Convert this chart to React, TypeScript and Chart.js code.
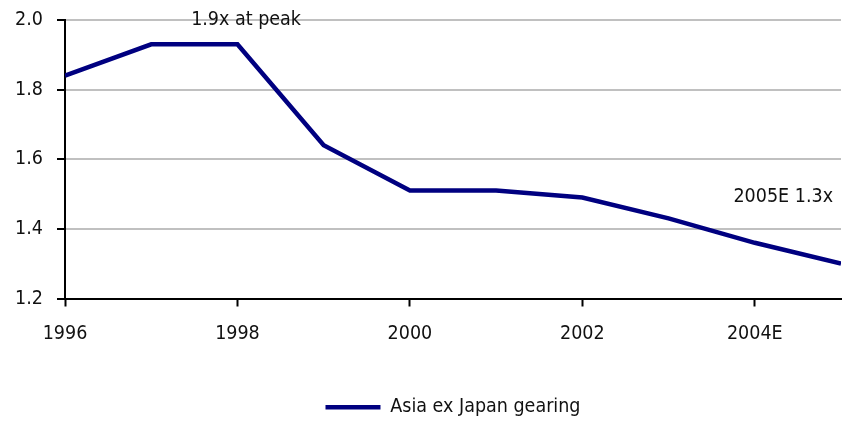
import React, { useEffect, useRef } from "react";
import { Chart, registerables } from "chart.js";

Chart.register(...registerables);

// Fiscal years on the x axis (2004 and 2005 are estimates)
const years = [1996, 1997, 1998, 1999, 2000, 2001, 2002, 2003, 2004, 2005];
const yearLabels = ["1996", "1997", "1998", "1999", "2000", "2001", "2002", "2003", "2004E", "2005E"];
// Net gearing (x) for Asia ex Japan
const gearing = [1.84, 1.93, 1.93, 1.64, 1.51, 1.51, 1.49, 1.43, 1.36, 1.3];
const seriesName = "Asia ex Japan gearing";

// Text notes placed in data coordinates
const notes = [
  { text: "1.9x at peak", x: 1998.1, y: 2.0 },
  { text: "2005E 1.3x", x: 2004.33, y: 1.492 },
];

const FONT = "'DejaVu Sans Condensed', 'Liberation Sans Narrow', sans-serif";
const FONT_SIZE = 19.5;

const notesPlugin = {
  id: "notes",
  afterDatasetsDraw(chart: any) {
    const { ctx, scales } = chart;
    ctx.save();
    ctx.font = `${FONT_SIZE}px ${FONT}`;
    ctx.fillStyle = "#111";
    ctx.textAlign = "center";
    ctx.textBaseline = "middle";
    for (const n of notes) {
      ctx.fillText(n.text, scales.x.getPixelForValue(n.x), scales.y.getPixelForValue(n.y));
    }
    ctx.restore();
  },
};

export default function App() {
  const canvasRef = useRef<HTMLCanvasElement | null>(null);

  useEffect(() => {
    if (!canvasRef.current) return;
    const chart = new Chart(canvasRef.current, {
      type: "line",
      data: {
        datasets: [
          {
            label: seriesName,
            data: years.map((yr, i) => ({ x: yr, y: gearing[i] })),
            borderColor: "#000080",
            backgroundColor: "#000080",
            borderWidth: 4.5,
            pointRadius: 0,
            pointHoverRadius: 0,
            tension: 0,
            fill: false,
          },
        ],
      },
      options: {
        animation: false,
        responsive: false,
        maintainAspectRatio: false,
        layout: { padding: { left: 0, right: 9, top: 20, bottom: -5 } },
        scales: {
          x: {
            type: "linear",
            min: 1996,
            max: 2005,
            border: { display: true, color: "#000", width: 2 },
            grid: {
              display: true,
              drawOnChartArea: false,
              drawTicks: true,
              tickLength: 8,
              tickColor: "#000",
              tickWidth: 2,
            },
            ticks: {
              stepSize: 2,
              includeBounds: false,
              autoSkip: false,
              maxRotation: 0,
              padding: 16,
              color: "#111",
              font: { family: FONT, size: FONT_SIZE },
              callback: (v: any) => {
                const i = years.indexOf(Number(v));
                return i >= 0 ? yearLabels[i] : "";
              },
            },
            afterFit: (s: any) => {
              s.height = 99;
            },
          },
          y: {
            min: 1.2,
            max: 2.0,
            border: { display: true, color: "#000", width: 2 },
            grid: {
              color: "#c0c0c0",
              lineWidth: 2,
              drawTicks: true,
              tickLength: 8,
              tickColor: "#000",
              tickWidth: 2,
            },
            ticks: {
              stepSize: 0.2,
              padding: 14,
              color: "#111",
              font: { family: FONT, size: FONT_SIZE },
              callback: (v: any) => Number(v).toFixed(1),
            },
            afterFit: (s: any) => {
              s.width = 65;
              s.paddingTop = 0;
              s.paddingBottom = 0;
            },
          },
        },
        plugins: {
          legend: {
            position: "bottom",
            fullSize: false,
            labels: {
              usePointStyle: true,
              pointStyle: "line",
              pointStyleWidth: 55,
              color: "#111",
              padding: 0,
              font: { family: FONT, size: FONT_SIZE },
            },
          },
          tooltip: { enabled: false },
        },
      },
      plugins: [notesPlugin],
    });
    return () => chart.destroy();
  }, []);

  return (
    <div style={{ position: "fixed", left: 0, top: 0, width: 850, height: 422, background: "#fff" }}>
      <canvas ref={canvasRef} width={850} height={422} style={{ display: "block" }} />
    </div>
  );
}
